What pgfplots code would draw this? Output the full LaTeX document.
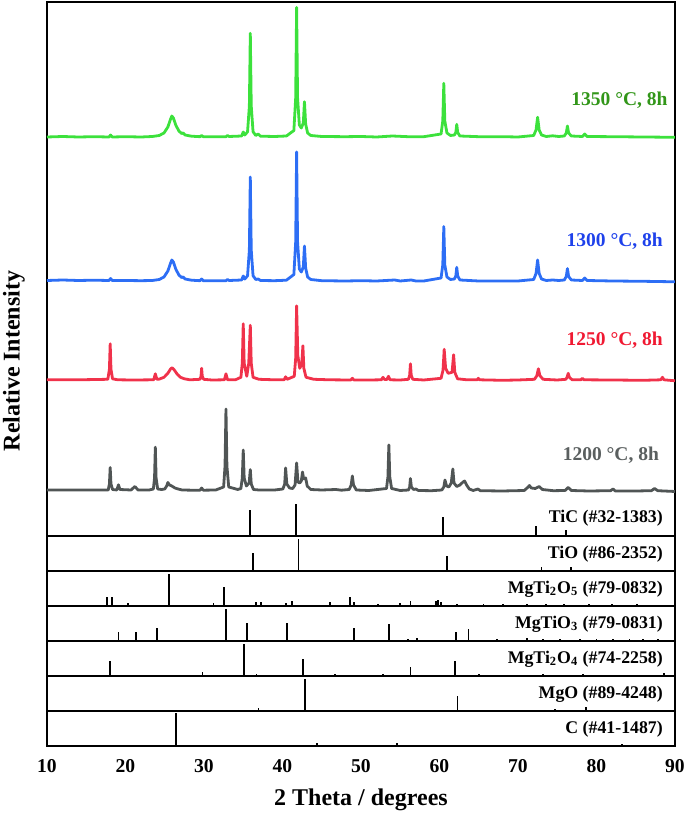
\documentclass[border=0pt]{standalone}
\usepackage{pgfplots}
\usepackage{pgfplotstable}
\pgfplotsset{compat=1.18}
\usepackage{fontspec}
\setmainfont{Liberation Serif}

\definecolor{gline}{RGB}{60,225,60}
\definecolor{glab}{RGB}{50,150,25}
\definecolor{bline}{RGB}{45,110,245}
\definecolor{blab}{RGB}{30,65,235}
\definecolor{rline}{RGB}{240,50,75}
\definecolor{rlab}{RGB}{240,25,50}
\definecolor{kline}{RGB}{80,85,85}
\definecolor{klab}{RGB}{90,95,95}

% intensities in px above each pattern's own baseline
\pgfplotstableread{
x y
10 0
12 0.5
14 0
16 0.3
17.9 0
18.1 2
18.3 0
20 0.3
22 0
23.4 0.5
24.3 1.5
24.9 4
25.4 10
25.7 17
25.9 21
26.1 19
26.4 12
26.8 6
27.15 3.5
27.35 4
27.6 2
28.4 0.8
29.5 0.3
29.7 1.5
29.9 0.3
32.8 0.3
33.0 1.5
33.2 0.5
34.8 1
35.0 5
35.2 2
35.55 5.2
35.78 31
35.9 103.7
36.02 31
36.25 5.2
36.6 1.5
36.9 3
37.2 0.8
39 0.5
40.5 1
41.45 6.5
41.68 39
41.8 129.7
41.92 39
42.15 12
42.4 9
42.65 14
42.8 35.3
42.95 13
43.2 4
43.6 1.5
45 0.5
48 0.3
50 0.5
52 0
54 1
56 0.3
58 0.3
60.2 3
60.42 16
60.55 53.7
60.68 16
60.95 4
61.4 1.5
61.9 2
62.08 4.5
62.2 12.7
62.32 4.5
62.6 1
65 0.3
68 0.3
70 0
72.0 1.5
72.3 7
72.5 19.7
72.7 7
73.0 2
73.6 0.5
74.4 1.2
75.2 0.5
75.9 1
76.15 4
76.3 11
76.45 4
76.8 1
78.2 0.5
78.5 3
78.8 0.5
82 0.3
86 0
90 -0.3
}\greencurve

\pgfplotstableread{
x y
10 0.5
12 1
14 0.5
16 0.8
17.9 0.5
18.1 2.5
18.3 0.5
20 0.5
22 0.3
23.4 0.5
24.3 1.5
24.9 4
25.4 10
25.7 17
25.9 21
26.1 19
26.4 12
26.8 6
27.15 3.5
27.35 4
27.6 2
28.4 0.8
29.5 0.3
29.7 2
29.9 0.3
32.8 0.3
33.0 1.5
33.2 0.5
34.8 1
35.0 5
35.2 2
35.55 5.2
35.78 31
35.9 104
36.02 31
36.25 5.2
36.6 1.5
36.9 2
37.2 0.5
39 0.3
40.5 0.8
41.45 6.5
41.68 39
41.8 129
41.92 39
42.15 12
42.4 9
42.65 14
42.8 35
42.95 13
43.2 4
43.6 1.5
45 0.3
48 0
50 0.3
52 0
54.3 1
55 0
56.4 1
57 0
58 0
60.2 3
60.42 16
60.55 54.5
60.68 16
60.95 4
61.4 1.5
61.9 2
62.08 5
62.2 13.7
62.32 5
62.6 1
65 0
68 0
70 0
72.0 1.5
72.3 7.5
72.5 21
72.7 7.5
73.0 2
73.6 0.5
74.4 1
75.2 0.5
75.9 1
76.15 4.5
76.3 12.4
76.45 4.5
76.8 1
78.2 0.5
78.5 3
78.8 0.5
82 0
86 -0.3
90 -0.8
}\bluecurve

\pgfplotstableread{
x y
10 0.5
14 0.5
17.75 1
17.95 11
18.05 36.5
18.15 11
18.35 1.5
19 0.5
21 0.3
23.6 0.5
23.8 6.5
24.0 1
24.3 1.2
24.9 3
25.4 7
25.75 11.5
25.95 12.5
26.2 10.5
26.6 6
27.0 3
27.5 1.5
28.2 0.5
29.5 1
29.62 4
29.7 12
29.78 4
29.95 1
31 0.3
32.6 0.5
32.8 6.5
33.0 0.5
34.0 0.5
34.7 3
34.88 17
35.0 56.5
35.12 17
35.45 4
35.7 17
35.9 55
36.02 17
36.25 3
37 1
39 0.5
40.2 0.5
40.4 3.5
40.6 1
41.5 4
41.68 22
41.8 74.5
41.95 25
42.2 12
42.45 16
42.6 34.5
42.72 12
43.0 3
44 1
46 0.5
48.7 0.3
48.9 2
49.1 0.3
51 0.3
52.6 0.5
52.8 3
53.0 0.8
53.3 0.8
53.5 4
53.7 0.5
55 0.3
56.05 1
56.2 5
56.3 16.5
56.4 5
56.6 1
58 0.3
60.2 2
60.45 10
60.6 31
60.78 12
61.1 7
61.6 8
61.8 25.5
61.95 8
62.3 1.5
63.5 0.5
64.8 0.5
64.95 2
65.1 0.5
68 0
70 0.3
72.1 1
72.4 4.5
72.6 11.5
72.8 4.5
73.2 1
75 0.3
76.1 1
76.25 3
76.4 7
76.55 3
76.9 0.5
78.0 0.5
78.2 2
78.4 0.5
82 0.3
86 0
88.2 0.5
88.4 3
88.6 0.5
90 -0.5
}\redcurve

\pgfplotstableread{
x y
10 1
14 1
17.8 1
17.95 7
18.05 23.5
18.15 7
18.35 1.5
18.9 1
19.1 6.2
19.3 1.5
20.7 1
21.2 4.5
21.6 1
23.0 1
23.55 2
23.7 13
23.8 43.8
23.9 13
24.1 2
24.6 1.5
25.0 2
25.25 5
25.4 8.5
25.6 6
25.9 5
26.3 3
26.7 2
27.2 1
28.5 0.8
29.5 0.8
29.7 3
29.9 0.8
31.5 1
32.5 4
32.68 25
32.8 82
32.92 25
33.15 4
34.3 1.5
34.7 2.5
34.88 13
35.0 41
35.12 13
35.4 5
35.75 8
35.9 21.4
36.02 7
36.3 1.5
37.0 1
39.0 1
40.05 2
40.28 7
40.4 23
40.55 7
40.9 3
41.3 2.5
41.6 6
41.8 28
41.97 9
42.2 8
42.4 10
42.55 19
42.7 12
42.95 13
43.15 5
43.6 1.5
45 1
46.8 1.5
47.5 0.8
48.5 1.5
48.75 6
48.9 15
49.05 6
49.4 1
51 0.5
53.25 2.5
53.43 14
53.55 46
53.67 14
53.9 2.5
55 0.5
56.05 1
56.2 4
56.3 12.5
56.42 4
56.7 1.5
57.0 2
57.3 0.5
59 0.3
60.3 1
60.55 4
60.7 11
60.9 5
61.2 4
61.5 8
61.7 22
61.85 8
62.2 4.5
62.6 6
63.0 9
63.2 10
63.45 6
63.8 2
64.3 0.5
64.9 2
65.2 0.3
68 0
70.8 0.5
71.3 4
71.45 5.5
71.7 3
72.2 2.5
72.7 4.5
73.1 1.5
74.5 0.3
76.0 0.5
76.4 3.5
76.8 0.5
79 0
81.8 0.3
82.1 2
82.4 0
85 0
87.0 0.3
87.4 2.5
87.8 0.3
90 -0.5
}\graycurve

\pgfplotsset{
  xrdbase/.style={
    width=314pt, scale only axis,
    xmin=10, xmax=90, xtick={10,20,...,90},
    ytick=\empty, major tick length=0pt,
    axis line style={line width=0.9pt},
    clip=false,
  },
  panel/.style={xrdbase, height=17.5pt, ymin=0, ymax=35, xticklabels={}},
  stick/.style={ycomb, black, line width=0.9pt, mark=none},
  curve/.style={line width=1.4pt, line join=round, mark=none},
}
\tikzset{
  reflab/.style={anchor=base east, inner sep=0pt, font=\bfseries\fontsize{8.9}{9}\selectfont},
  curvelab/.style={anchor=base east, inner sep=0pt, font=\bfseries\fontsize{9.75}{10}\selectfont},
}

\begin{document}
\begin{tikzpicture}
\useasboundingbox (-23.5pt,-34.65pt) rectangle (319pt,372.85pt);

% bottom panel with the x axis
\begin{axis}[xrdbase, height=17.5pt, ymin=0, ymax=35,
  at={(0,0)}, anchor=south west,
  /pgf/number format/assume math mode=true,
  xticklabel style={font=\bfseries\fontsize{9.8}{10}\selectfont, anchor=center, yshift=-10pt},
  xlabel={2 Theta / degrees},
  xlabel style={font=\bfseries\fontsize{12}{12}\selectfont, at={(rel axis cs:0.5,0)}, anchor=center, yshift=-27pt},
]
\addplot[stick] coordinates {(26.4,32.7) (42.2,1) (44.35,2.5) (54.55,2.5) (83.2,1.5)};
\node[reflab] at (axis cs:88.5,12) {C (\#41-1487)};
\end{axis}

\begin{axis}[panel, at={(0,17.5pt)}, anchor=south west]
\addplot[stick] coordinates {(36.95,3) (42.9,31.7) (62.3,14.7) (74.7,2) (78.66,4)};
\node[reflab] at (axis cs:88.5,12) {MgO (\#89-4248)};
\end{axis}

\begin{axis}[panel, at={(0,35pt)}, anchor=south west]
\addplot[stick] coordinates {(18.06,15) (29.8,4) (35.05,31.7) (36.7,2) (42.65,16.7) (46.7,2)
  (52.8,2) (56.3,8.4) (61.96,14.4) (65.0,2) (73.2,2) (78.3,2) (88.6,3)};
\node[reflab] at (axis cs:88.5,12) {MgTi\textsubscript{2}O\textsubscript{4} (\#74-2258)};
\end{axis}

\begin{axis}[panel, at={(0,52.5pt)}, anchor=south west]
\addplot[stick] coordinates {(19.1,8.3) (21.3,8.3) (23.97,13) (32.85,32) (35.5,17.3) (40.6,17.3)
  (49.1,12.7) (53.6,17) (56.0,1.5) (57.1,2.5) (62.1,9) (63.7,11.4) (67.3,1.5) (71.1,3)
  (73.2,1.5) (75.35,1.5) (77.9,1.5) (80.0,1.5) (82.1,1.5) (84.2,1.5) (85.9,1.5) (87.8,2)};
\node[reflab] at (axis cs:88.5,12) {MgTiO\textsubscript{3} (\#79-0831)};
\end{axis}

\begin{axis}[panel, at={(0,70pt)}, anchor=south west]
\addplot[stick] coordinates {(17.64,9) (18.23,9) (20.3,3) (25.5,31.7) (31.2,2.4) (32.5,18.7)
  (36.6,4) (37.25,4) (40.4,3) (41.2,5) (46.05,4) (48.6,8.7) (49.15,4) (52.2,2) (54.97,3)
  (56.3,5) (59.55,5) (59.85,6) (60.15,4) (62.2,2) (65.6,2) (68.1,1.5) (71.1,1.5)
  (73.6,1.5) (75.9,1.5) (79.0,1.5) (82.0,1.5) (85.2,1.5)};
\node[reflab] at (axis cs:88.5,12) {MgTi\textsubscript{2}O\textsubscript{5} (\#79-0832)};
\end{axis}

\begin{axis}[panel, at={(0,87.5pt)}, anchor=south west]
\addplot[stick] coordinates {(36.2,17.3) (42.05,31.7) (61.0,14.7) (73.0,4) (76.8,3.3)};
\node[reflab] at (axis cs:88.5,12) {TiO (\#86-2352)};
\end{axis}

% main panel: measured patterns, with the TiC reference at its foot
\begin{axis}[xrdbase, xticklabels={}, name=main,
  at={(0,105pt)}, anchor=south west, height=266.7pt, ymin=0, ymax=533.4]
\addplot[curve, kline] table[x=x, y expr=\thisrow{y}+44.7] {\graycurve};
\addplot[curve, rline] table[x=x, y expr=\thisrow{y}+155.4] {\redcurve};
\addplot[curve, bline] table[x=x, y expr=\thisrow{y}+254.7] {\bluecurve};
\addplot[curve, gline] table[x=x, y expr=\thisrow{y}+398.7] {\greencurve};
\addplot[stick] coordinates {(35.9,25.7) (41.75,31.7) (60.4,19) (72.3,9.7) (76.1,5.7)};
\node[reflab] at (axis cs:88.5,13) {TiC (\#32-1383)};
\node[curvelab, text=glab] at (axis cs:89.1,430.1) {1350 °C, 8h};
\node[curvelab, text=blab] at (axis cs:88.5,289.1) {1300 °C, 8h};
\node[curvelab, text=rlab] at (axis cs:88.5,189.8) {1250 °C, 8h};
\node[curvelab, text=klab] at (axis cs:88.0,75.1) {1200 °C, 8h};
\end{axis}

\node[rotate=90, inner sep=0pt, font=\bfseries\fontsize{12}{12}\selectfont] at (-16.5pt,192.35pt) {Relative Intensity};
\end{tikzpicture}
\end{document}
